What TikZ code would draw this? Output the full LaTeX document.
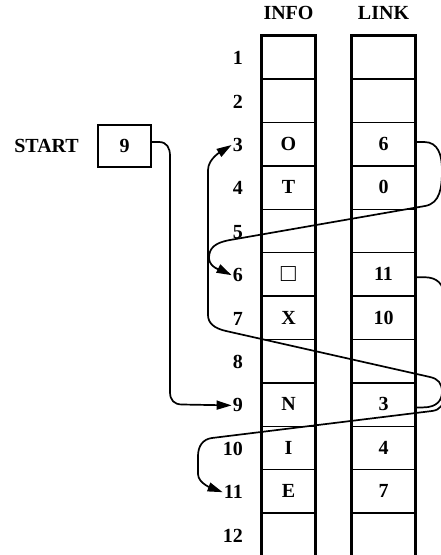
\documentclass[tikz,border=0pt]{standalone}
\usepackage{fontspec}
\setmainfont{Liberation Serif}
\usetikzlibrary{arrows.meta}
\begin{document}
\begin{tikzpicture}[x=1pt,y=-1pt,
  txt/.style={font=\fontsize{20}{20}\selectfont\bfseries, inner sep=0pt},
  cell/.style={txt, minimum height=43.4pt, anchor=center},
  icell/.style={cell, minimum width=53pt},
  lcell/.style={cell, minimum width=63pt},
  rowlbl/.style={txt, anchor=east},
  thickborder/.style={line width=3pt, line join=miter},
  thinborder/.style={line width=1.5pt},
  conn/.style={line width=1.7pt, -{Triangle[length=15pt,width=9pt]}}]
\useasboundingbox (0,0) rectangle (441,555);

% headings
\node[txt] (hinfo) at (288.5,13) {INFO};
\node[txt] (hlink) at (383.5,13) {LINK};

% cells and row labels
\foreach \i/\a/\b in {1/{}/{},2/{}/{},3/O/6,4/T/0,5/{}/{},6/{\fontsize{25}{25}\selectfont □}/11,7/X/10,8/{}/{},9/N/3,10/I/4,11/E/7,12/{}/{}} {
  \node[icell] (i\i) at (288.5,{13.8+43.4*\i}) {\a};
  \node[lcell] (l\i) at (383.5,{13.8+43.4*\i}) {\b};
  \node[rowlbl] (r\i) at (243,{14.8+43.4*\i}) {\i};
}
\foreach \i in {1,...,11} {
  \draw[thinborder] (i\i.south west) -- (i\i.south east);
  \draw[thinborder] (l\i.south west) -- (l\i.south east);
}
\draw[thickborder] (i12.south west) -- (i1.north west) -- (i1.north east) -- (i12.south east);
\draw[thickborder] (l12.south west) -- (l1.north west) -- (l1.north east) -- (l12.south east);

% START pointer
\node[txt, anchor=east] (start) at (79,146) {START};
\node[txt, draw, line width=2pt, minimum width=53pt, minimum height=42pt] (sbox) at (124.5,146) {9};

% connectors
\draw[conn] ([yshift=4pt]sbox.east) -- ++(7,0) .. controls +(8,0) and +(0,-8) .. (170,156)
  -- (170,392) .. controls +(0,8) and +(-8,0) .. (182,404.5) -- ([xshift=-1pt]r9.west);

\draw[conn] ([yshift=2pt]l3.east) -- ++(9,0) .. controls +(14,0) and +(0,-15) .. (442,170)
  .. controls +(0,18) and +(15,-2.6) .. (425,206) -- (230,240)
  .. controls +(-15,2.6) and +(0,-10) .. (209,258)
  .. controls +(0,10) and +(-8,-4) .. ([xshift=-1pt]r6.west);

\draw[conn] ([yshift=-3pt]l9.east) -- ++(8,0) .. controls +(14,0) and +(0,8) .. (442,392)
  .. controls +(0,-9) and +(8,1.8) .. (430,377) -- (226,331)
  .. controls +(-12,-2.7) and +(0,8) .. (208,315) -- (208,170)
  .. controls +(0,-12) and +(-8,5) .. ([xshift=-1pt]r3.west);

\draw[conn] ([yshift=-3pt]l6.east) -- ++(9,0) .. controls +(13,0) and +(0,-13) .. (444,297)
  -- (444,395) .. controls +(0,10) and +(8,-1) .. (432,411) -- (212,438)
  .. controls +(-9,1.1) and +(0,-10) .. (198,456) -- (198,474)
  .. controls +(0,10) and +(-8,-3) .. ([xshift=-1pt]r11.west);
\end{tikzpicture}
\end{document}
